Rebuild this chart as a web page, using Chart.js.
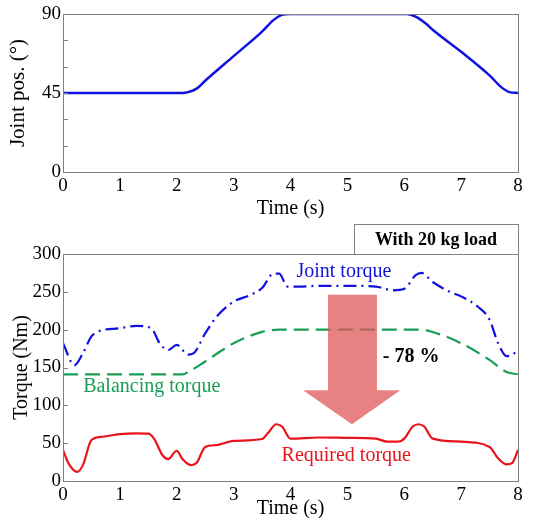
<!DOCTYPE html>
<html>
<head>
<meta charset="utf-8">
<script src="https://cdn.jsdelivr.net/npm/chart.js@4.4.1/dist/chart.umd.min.js"></script>
<style>
body { margin: 0; background: #fff; width: 544px; height: 518px; position: relative; overflow: hidden; }
canvas { position: absolute; left: 0; }
#posChart { top: 0; }
#torqueChart { top: 220px; }
</style>
</head>
<body>
<canvas id="posChart" width="544" height="220" style="width:544px;height:220px"></canvas>
<canvas id="torqueChart" width="544" height="298" style="width:544px;height:298px"></canvas>
<script>
// joint position (deg)
const posTime = [0, 1, 2.1, 2.2, 2.35, 2.5, 3, 3.5, 3.7, 3.85, 4, 5, 6.05, 6.2, 6.4, 6.5, 7, 7.5, 7.7, 7.85, 8];
const jointPos = [45, 45, 45, 45.5, 47.5, 52, 66, 80, 86.5, 89.5, 90, 90, 90, 88.5, 84, 81, 68.5, 55, 48.5, 45.5, 45];

// joint torque (Nm), dash-dot blue
const jointTime = [0, 0.2, 0.35, 0.5, 0.6, 1, 1.3, 1.55, 1.7, 1.85, 2, 2.2, 2.3, 2.5, 2.7, 3, 3.3, 3.5, 3.7, 3.8, 3.95, 4.2, 4.5, 5, 5.5, 5.8, 6, 6.2, 6.3, 6.5, 6.8, 7, 7.3, 7.5, 7.65, 7.8, 7.9, 8];
const jointTorque = [182, 153, 169, 191, 197, 202, 205, 202, 182, 173, 180, 167, 169, 195, 217, 237, 246, 255, 274, 274, 257, 257, 258, 258, 257, 252, 254, 272, 275, 263, 250, 244, 230, 213, 182, 165, 167, 173];

// balancing torque (Nm), dashed green
const balTime = [0, 1, 2.1, 2.2, 2.5, 3, 3.5, 3.8, 4, 5, 6.3, 6.5, 7, 7.5, 7.8, 8];
const balTorque = [141, 141, 141, 144, 158, 182, 197, 200, 200, 200, 200, 197, 182, 160, 144, 141];

// required torque (Nm), solid red
const reqTime = [0, 0.1, 0.25, 0.35, 0.5, 0.7, 1, 1.3, 1.5, 1.6, 1.75, 1.85, 2, 2.1, 2.25, 2.35, 2.5, 2.7, 3, 3.5, 3.6, 3.75, 3.85, 4, 4.5, 5, 5.5, 5.7, 5.9, 6, 6.15, 6.25, 6.35, 6.5, 7, 7.5, 7.65, 7.8, 7.9, 8];
const reqTorque = [41, 23, 12, 21, 54, 58.5, 62, 63, 62.5, 56, 34, 29, 40, 29, 21, 24, 45, 47.5, 53, 55.5, 63, 75, 72, 56, 57.5, 57, 56, 52, 52, 56, 72, 75, 72, 56, 52, 45, 30, 22, 24, 41];

// reduction arrow outline (s, Nm)
const arrowX = [4.66, 5.52, 5.52, 5.93, 5.08, 4.22, 4.66, 4.66];
const arrowY = [246, 246, 120, 120, 75, 120, 120, 246];

const xTicks = [0, 1, 2, 3, 4, 5, 6, 7, 8];

const serif = "'Liberation Serif', 'Times New Roman', serif";

function pts(xs, ys) {
    return xs.map((x, i) => ({ x: x, y: ys[i] }));
}

const framePlugin = {
    id: 'frame',
    afterDraw(chart) {
        const ctx = chart.ctx;
        const a = chart.chartArea;
        const ys = chart.scales.y;
        ctx.save();
        ctx.strokeStyle = '#808080';
        ctx.lineWidth = 1;
        ctx.strokeRect(Math.round(a.left) + 0.5, Math.round(a.top) + 0.5, Math.round(a.width), Math.round(a.height));
        ys.ticks.forEach(t => {
            const py = Math.round(ys.getPixelForValue(t.value)) + 0.5;
            ctx.beginPath();
            ctx.moveTo(a.left, py);
            ctx.lineTo(a.left + 5, py);
            ctx.stroke();
        });
        ctx.restore();
    }
};

const noGrid = { display: false, drawTicks: false, tickLength: 0 };

function xScale(titleBottom) {
    return {
        type: 'linear', min: 0, max: 8,
        afterBuildTicks: s => { s.ticks = xTicks.map(v => ({ value: v })); },
        grid: noGrid,
        border: { display: false },
        ticks: { color: '#000', font: { family: serif, size: 19 }, padding: 3, maxRotation: 0 },
        title: { display: true, text: 'Time (s)', color: '#000', font: { family: serif, size: 20 }, padding: { top: 0, bottom: titleBottom } }
    };
}

new Chart(document.getElementById('posChart'), {
    type: 'line',
    data: {
        datasets: [{
            data: pts(posTime, jointPos),
            borderColor: '#1010e0',
            borderWidth: 2.5,
            pointRadius: 0,
            cubicInterpolationMode: 'monotone'
        }]
    },
    options: {
        responsive: false,
        animation: false,
        layout: { padding: { top: 14, right: 26, left: 0, bottom: 0 } },
        plugins: { legend: { display: false }, tooltip: { enabled: false } },
        scales: {
            x: Object.assign(xScale(-1), { afterFit: s => { s.height = 48; } }),
            y: {
                min: 0, max: 90,
                afterFit: s => { s.width = 63; },
                grid: noGrid,
                border: { display: false },
                ticks: {
                    stepSize: 15, padding: 2, color: '#000',
                    font: { family: serif, size: 19 },
                    callback: v => (v % 45 === 0 ? v : '')
                },
                title: { display: true, text: 'Joint pos. (°)', color: '#000', font: { family: serif, size: 21 }, padding: { top: 6, bottom: 0 } }
            }
        }
    },
    plugins: [framePlugin]
});

const noteLabels = [
    { text: 'Joint torque', x: 4.94, y: 276, color: '#1010e0', bold: false },
    { text: 'Balancing torque', x: 1.56, y: 124, color: '#1a9e55', bold: false },
    { text: 'Required torque', x: 4.98, y: 34, color: '#e8141c', bold: false },
    { text: '- 78 %', x: 6.12, y: 164, color: '#000', bold: true }
];

const notesPlugin = {
    id: 'notes',
    afterDraw(chart) {
        const ctx = chart.ctx;
        const a = chart.chartArea;
        const xs = chart.scales.x, ys = chart.scales.y;
        ctx.save();
        ctx.textAlign = 'center';
        ctx.textBaseline = 'middle';
        noteLabels.forEach(l => {
            ctx.font = (l.bold ? 'bold ' : '') + '20px ' + serif;
            ctx.fillStyle = l.color;
            ctx.fillText(l.text, xs.getPixelForValue(l.x), ys.getPixelForValue(l.y));
        });
        // load box
        const bx = 354, by = 4.5;
        ctx.strokeStyle = '#808080';
        ctx.lineWidth = 1;
        ctx.strokeRect(bx + 0.5, by, Math.round(a.right) - bx, Math.round(a.top) + 0.5 - by);
        ctx.font = 'bold 18px ' + serif;
        ctx.fillStyle = '#000';
        ctx.fillText('With 20 kg load', (bx + a.right) / 2, (by + a.top) / 2 + 1);
        ctx.restore();
    }
};

new Chart(document.getElementById('torqueChart'), {
    type: 'line',
    data: {
        datasets: [{
            data: pts(arrowX, arrowY),
            borderWidth: 0,
            borderColor: 'rgba(0,0,0,0)',
            backgroundColor: 'rgba(224,88,88,0.75)',
            fill: 'shape',
            pointRadius: 0,
            tension: 0
        }, {
            data: pts(reqTime, reqTorque),
            borderColor: '#e8141c',
            borderWidth: 2.2,
            pointRadius: 0,
            cubicInterpolationMode: 'monotone'
        }, {
            data: pts(jointTime, jointTorque),
            borderColor: '#1010e0',
            borderWidth: 2.2,
            borderDash: [13, 5, 2, 5],
            pointRadius: 0,
            cubicInterpolationMode: 'monotone'
        }, {
            data: pts(balTime, balTorque),
            borderColor: '#1a9e55',
            borderWidth: 2.2,
            borderDash: [15, 7],
            pointRadius: 0,
            cubicInterpolationMode: 'monotone'
        }]
    },
    options: {
        responsive: false,
        animation: false,
        layout: { padding: { top: 34, right: 26, left: 0, bottom: 0 } },
        plugins: { legend: { display: false }, tooltip: { enabled: false } },
        scales: {
            x: Object.assign(xScale(-3), { afterFit: s => { s.height = 37; } }),
            y: {
                min: 0, max: 300,
                afterFit: s => { s.width = 63; },
                grid: noGrid,
                border: { display: false },
                ticks: { stepSize: 50, padding: 2, color: '#000', font: { family: serif, size: 19 } },
                title: { display: true, text: 'Torque (Nm)', color: '#000', font: { family: serif, size: 20 }, padding: { top: 10, bottom: 0 } }
            }
        }
    },
    plugins: [framePlugin, notesPlugin]
});
</script>
</body>
</html>
